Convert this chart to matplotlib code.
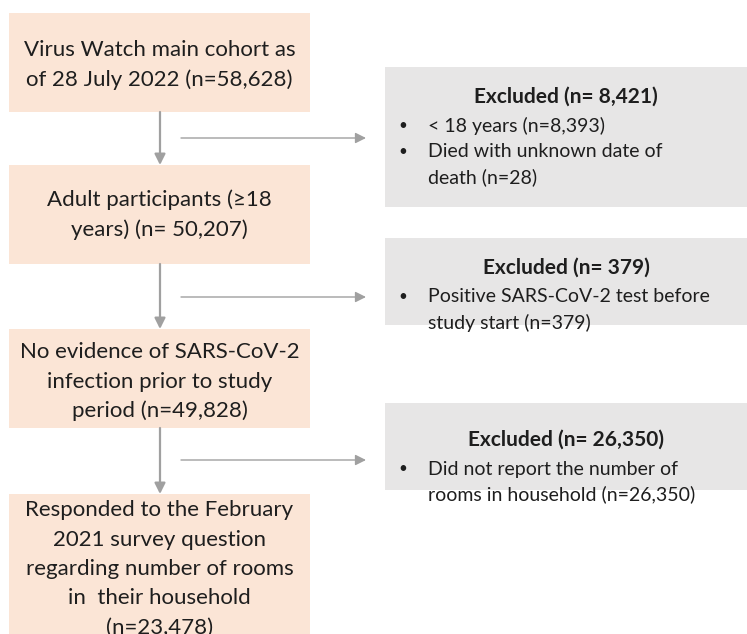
import matplotlib.pyplot as plt
from matplotlib.patches import Rectangle

plt.rcParams['font.family'] = ['Lato', 'DejaVu Sans']

# flowchart content
MAIN_STEPS = [
    ["Virus Watch main cohort as", "of 28 July 2022 (n=58,628)"],
    ["Adult participants (\u226518", "years) (n= 50,207)"],
    ["No evidence of SARS-CoV-2", "infection prior to study", "period (n=49,828)"],
    ["Responded to the February", "2021 survey question", "regarding number of rooms", "in  their household", "(n=23,478)"],
]

EXCLUDED_TITLES = [
    "Excluded (n= 8,421)",
    "Excluded (n= 379)",
    "Excluded (n= 26,350)",
]

EXCLUDED_ITEMS = [
    [["< 18 years (n=8,393)"], ["Died with unknown date of", "death (n=28)"]],
    [["Positive SARS-CoV-2 test before", "study start (n=379)"]],
    [["Did not report the number of", "rooms in household (n=26,350)"]],
]

# layout in pixels (top-left origin)
main_boxes = [(9, 13, 301, 99), (9, 165, 301, 99), (9, 329, 301, 99), (9, 494, 301, 160)]
main_first_line = [50, 200, 352, 510]
excl_boxes = [(385, 67, 362, 140), (385, 238, 362, 87), (385, 403, 362, 87)]
excl_title_y = [97, 268, 440]
arrow_y = [138, 297, 460]

PEACH = "#FBE5D6"
GREY = "#E7E6E6"
ARROW = "#A0A0A0"
TEXT = "#1E1E1E"

fig = plt.figure(figsize=(7.47, 6.34), dpi=100)
ax = fig.add_axes([0, 0, 1, 1])
ax.set_xlim(0, 747)
ax.set_ylim(634, 0)
ax.axis("off")

main_step = 29.5
for (x, y, w, h), lines, y0 in zip(main_boxes, MAIN_STEPS, main_first_line):
    ax.add_patch(Rectangle((x, y), w, h, facecolor=PEACH, edgecolor="none"))
    for i, line in enumerate(lines):
        ax.text(x + w / 2, y0 + i * main_step, line, ha="center", va="center",
                fontsize=16, color=TEXT)

# vertical arrows between main boxes
for i in range(len(main_boxes) - 1):
    x, y, w, h = main_boxes[i]
    nxt = main_boxes[i + 1]
    ax.annotate("", xy=(160, nxt[1]), xytext=(160, y + h),
                arrowprops=dict(arrowstyle="-|>", color=ARROW, lw=1.6,
                                mutation_scale=16, shrinkA=0, shrinkB=0))

# horizontal arrows to exclusion boxes
for ay in arrow_y:
    ax.annotate("", xy=(366, ay), xytext=(181, ay),
                arrowprops=dict(arrowstyle="-|>", color=ARROW, lw=1.0,
                                mutation_scale=16, shrinkA=0, shrinkB=0))

excl_step = 25.5
for (x, y, w, h), title, items, ty in zip(excl_boxes, EXCLUDED_TITLES, EXCLUDED_ITEMS, excl_title_y):
    ax.add_patch(Rectangle((x, y), w, h, facecolor=GREY, edgecolor="none"))
    ax.text(x + w / 2, ty, title, ha="center", va="center", fontsize=15,
            fontweight="bold", color=TEXT)
    ly = ty + 29
    for item in items:
        ax.text(403, ly, "\u2022", ha="center", va="center", fontsize=11, color=TEXT)
        for line in item:
            ax.text(428, ly, line, ha="left", va="center", fontsize=14, color=TEXT)
            ly += excl_step

fig.savefig("out.png", dpi=100)
plt.close(fig)
